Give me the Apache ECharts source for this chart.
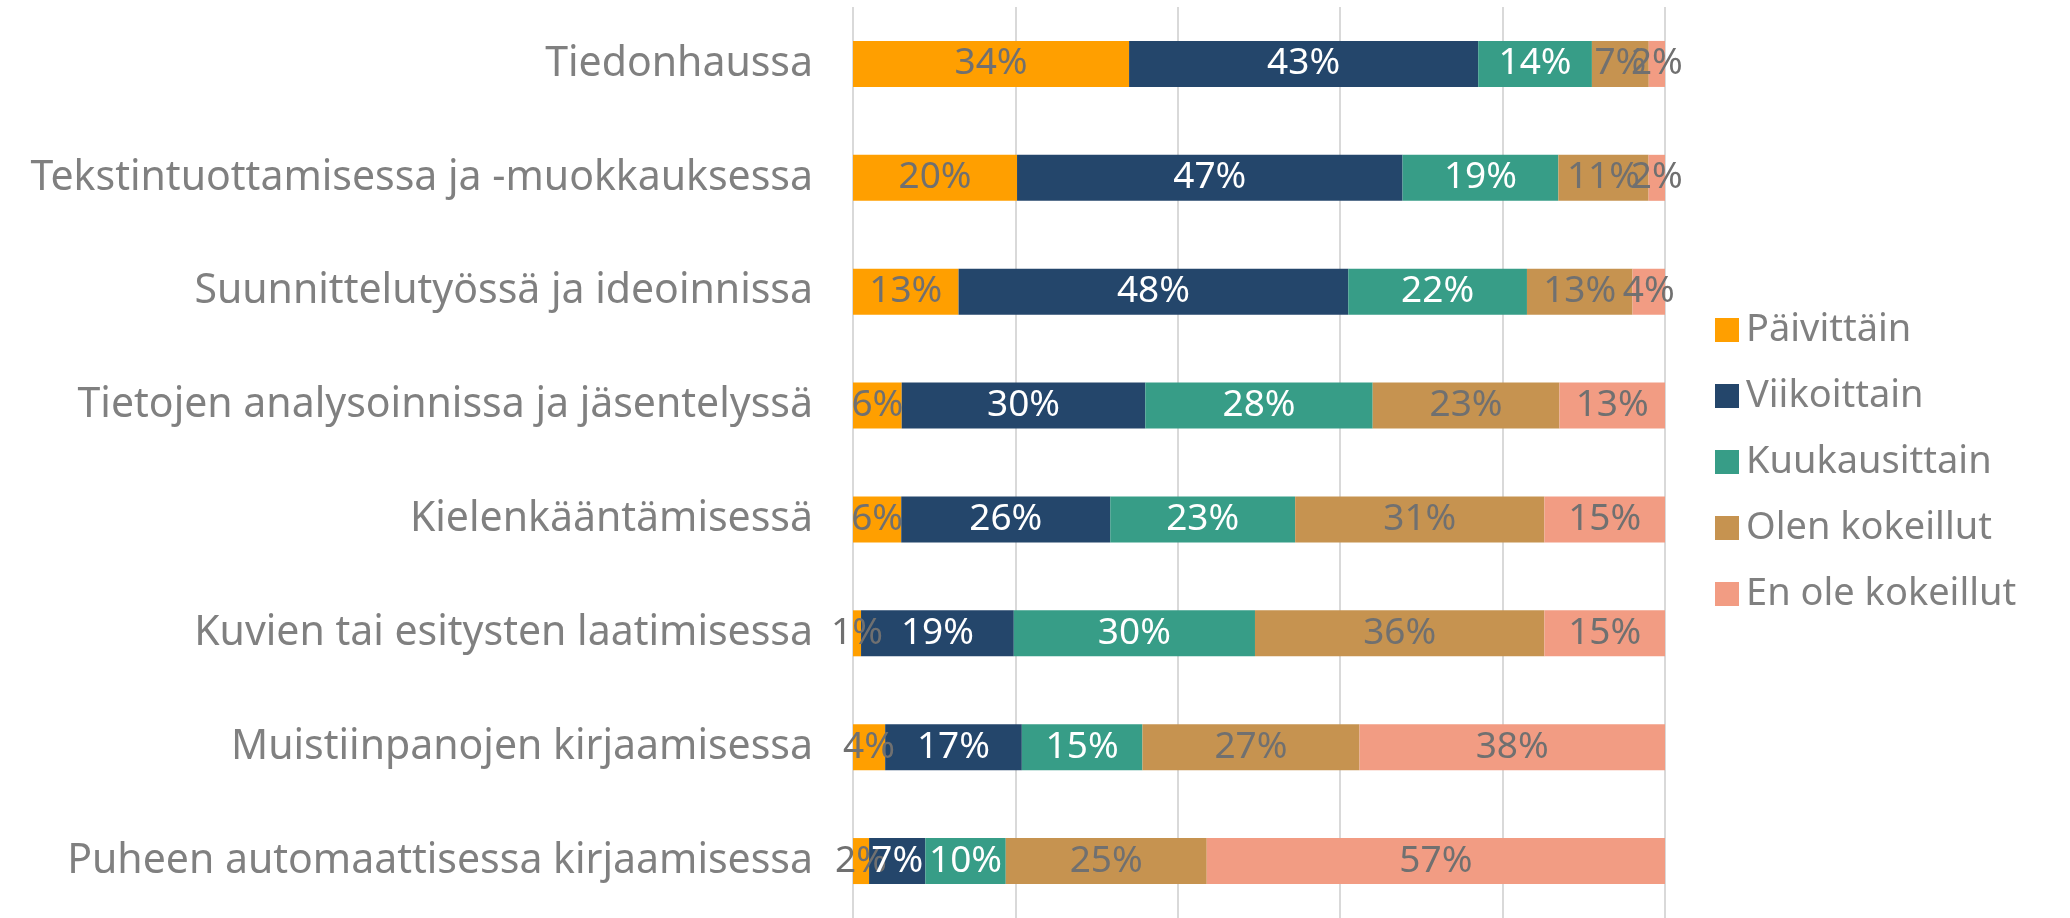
<!DOCTYPE html>
<html>
<head>
<meta charset="utf-8">
<style>
html, body { margin: 0; padding: 0; background: #fff; }
#chart { width: 2070px; height: 918px; }
</style>
<script src="https://cdn.jsdelivr.net/npm/echarts@6/dist/echarts.min.js"></script>
</head>
<body>
<div id="chart"></div>
<script>
// categories, top to bottom
const categories = [
  "Tiedonhaussa",
  "Tekstintuottamisessa ja -muokkauksessa",
  "Suunnittelutyössä ja ideoinnissa",
  "Tietojen analysoinnissa ja jäsentelyssä",
  "Kielenkääntämisessä",
  "Kuvien tai esitysten laatimisessa",
  "Muistiinpanojen kirjaamisessa",
  "Puheen automaattisessa kirjaamisessa"
];

const seriesNames = ["Päivittäin", "Viikoittain", "Kuukausittain", "Olen kokeillut", "En ole kokeillut"];
const colors = ["#FF9F00", "#24466B", "#379D87", "#C69350", "#F29C83"];
const labelColors = ["#707070", "#ffffff", "#ffffff", "#707070", "#707070"];

// percentages per series, one value per category
const paivittain     = [34, 20, 13, 6, 6, 1, 4, 2];
const viikoittain    = [43, 47, 48, 30, 26, 19, 17, 7];
const kuukausittain  = [14, 19, 22, 28, 23, 30, 15, 10];
const olenKokeillut  = [7, 11, 13, 23, 31, 36, 27, 25];
const enOleKokeillut = [2, 2, 4, 13, 15, 15, 38, 57];

const allValues = [paivittain, viikoittain, kuukausittain, olenKokeillut, enOleKokeillut];

// 100% stacked: scale each row to its total, keep the printed value as label
const totals = categories.map((c, i) => allValues.reduce((s, arr) => s + arr[i], 0));

const FONT = "Noto Sans";

const series = allValues.map((arr, k) => ({
  name: seriesNames[k],
  type: "bar",
  stack: "total",
  barWidth: 46,
  itemStyle: { color: colors[k] },
  label: {
    show: true,
    position: "inside",
    color: labelColors[k],
    fontFamily: FONT,
    fontSize: 37,
    formatter: p => arr[p.dataIndex] + "%"
  },
  data: arr.map((v, i) => v / totals[i] * 100)
}));

const chart = echarts.init(document.getElementById("chart"), null, { renderer: "canvas" });
chart.setOption({
  animation: false,
  color: colors,
  grid: { left: 853, right: 405, top: 7, bottom: 0, containLabel: false },
  xAxis: {
    type: "value",
    min: 0,
    max: 100,
    interval: 20,
    axisLabel: { show: false },
    axisLine: { show: false },
    axisTick: { show: false },
    splitLine: { show: true, lineStyle: { color: "#d9d9d9", width: 2 } }
  },
  yAxis: {
    type: "category",
    inverse: true,
    data: categories,
    axisLine: { show: false },
    axisTick: { show: false },
    axisLabel: {
      color: "#808080",
      fontFamily: FONT,
      fontSize: 41,
      margin: 40
    }
  },
  legend: {
    orient: "vertical",
    left: 1710,
    top: 305,
    icon: "rect",
    itemWidth: 24,
    itemHeight: 24,
    itemGap: 26,
    data: seriesNames,
    textStyle: {
      color: "#808080",
      fontFamily: FONT,
      fontSize: 38,
      lineHeight: 40,
      padding: [0, 0, 0, 2]
    }
  },
  series: series
});
</script>
</body>
</html>
